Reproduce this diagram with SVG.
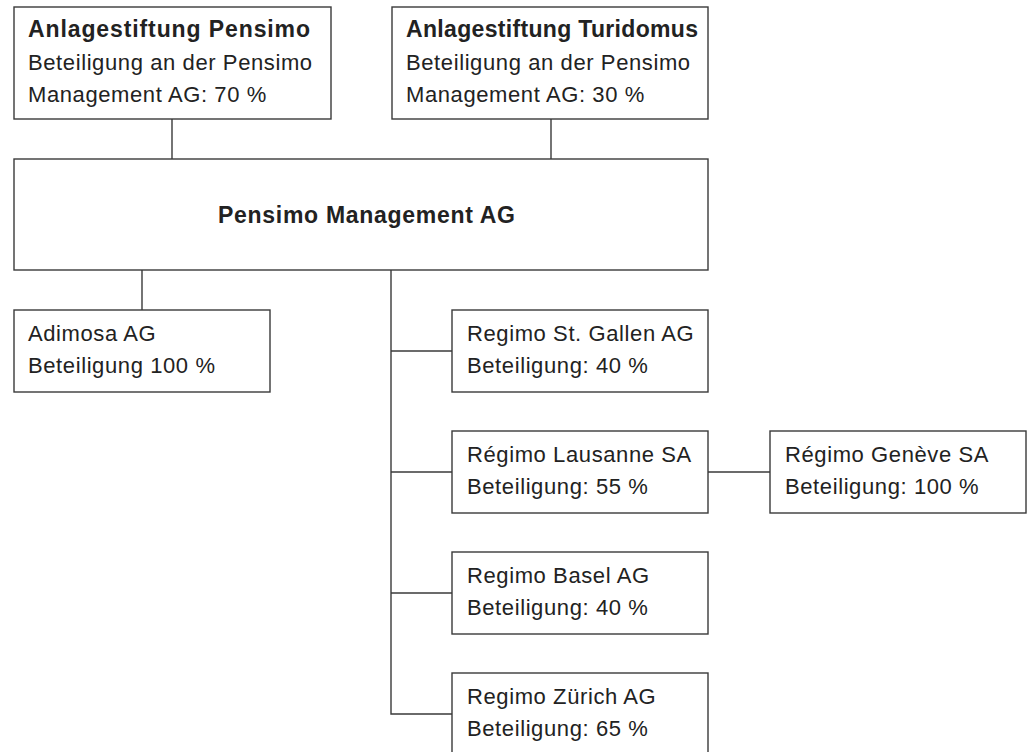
<svg xmlns="http://www.w3.org/2000/svg" width="1032" height="752" viewBox="0 0 1032 752">
<style>
.box{fill:#fff;stroke:#3a3a3a;stroke-width:1.4}
.ln{fill:none;stroke:#3a3a3a;stroke-width:1.4}
text{font-family:"Liberation Sans",Arial,sans-serif;font-size:22px;letter-spacing:0.6px;fill:#222}
.b{font-weight:bold;font-size:23px;letter-spacing:0}
</style>
<rect width="1032" height="752" fill="#fff"/>
<g id="connectors">
<line class="ln" x1="172" y1="119" x2="172" y2="159"/>
<line class="ln" x1="551" y1="119" x2="551" y2="159"/>
<line class="ln" x1="142" y1="270" x2="142" y2="310"/>
<polyline class="ln" points="391,270 391,714 452,714"/>
<line class="ln" x1="391" y1="351" x2="452" y2="351"/>
<line class="ln" x1="391" y1="472" x2="452" y2="472"/>
<line class="ln" x1="391" y1="593" x2="452" y2="593"/>
<line class="ln" x1="708" y1="472" x2="770" y2="472"/>
</g>
<g id="pensimo">
<rect class="box" x="14" y="7" width="317" height="112"/>
<text class="b" x="28" y="37" textLength="282" lengthAdjust="spacing">Anlagestiftung Pensimo</text>
<text x="28" y="70">Beteiligung an der Pensimo</text>
<text x="28" y="102">Management AG: 70 %</text>
</g>
<g id="turidomus">
<rect class="box" x="392" y="7" width="316" height="112"/>
<text class="b" x="406" y="37" textLength="292" lengthAdjust="spacing">Anlagestiftung Turidomus</text>
<text x="406" y="70">Beteiligung an der Pensimo</text>
<text x="406" y="102">Management AG: 30 %</text>
</g>
<g id="pma">
<rect class="box" x="14" y="159" width="694" height="111"/>
<text class="b" x="218" y="223" textLength="297" lengthAdjust="spacing">Pensimo Management AG</text>
</g>
<g id="adimosa">
<rect class="box" x="14" y="310" width="256" height="82"/>
<text x="28" y="341">Adimosa AG</text>
<text x="28" y="373">Beteiligung 100 %</text>
</g>
<g id="stgallen">
<rect class="box" x="452" y="310" width="256" height="82"/>
<text x="467" y="341">Regimo St. Gallen AG</text>
<text x="467" y="373">Beteiligung: 40 %</text>
</g>
<g id="lausanne">
<rect class="box" x="452" y="431" width="256" height="82"/>
<text x="467" y="462">Régimo Lausanne SA</text>
<text x="467" y="494">Beteiligung: 55 %</text>
</g>
<g id="geneve">
<rect class="box" x="770" y="431" width="256" height="82"/>
<text x="785" y="462">Régimo Genève SA</text>
<text x="785" y="494">Beteiligung: 100 %</text>
</g>
<g id="basel">
<rect class="box" x="452" y="552" width="256" height="82"/>
<text x="467" y="583">Regimo Basel AG</text>
<text x="467" y="615">Beteiligung: 40 %</text>
</g>
<g id="zuerich">
<rect class="box" x="452" y="673" width="256" height="84"/>
<text x="467" y="704">Regimo Zürich AG</text>
<text x="467" y="736">Beteiligung: 65 %</text>
</g>
</svg>
